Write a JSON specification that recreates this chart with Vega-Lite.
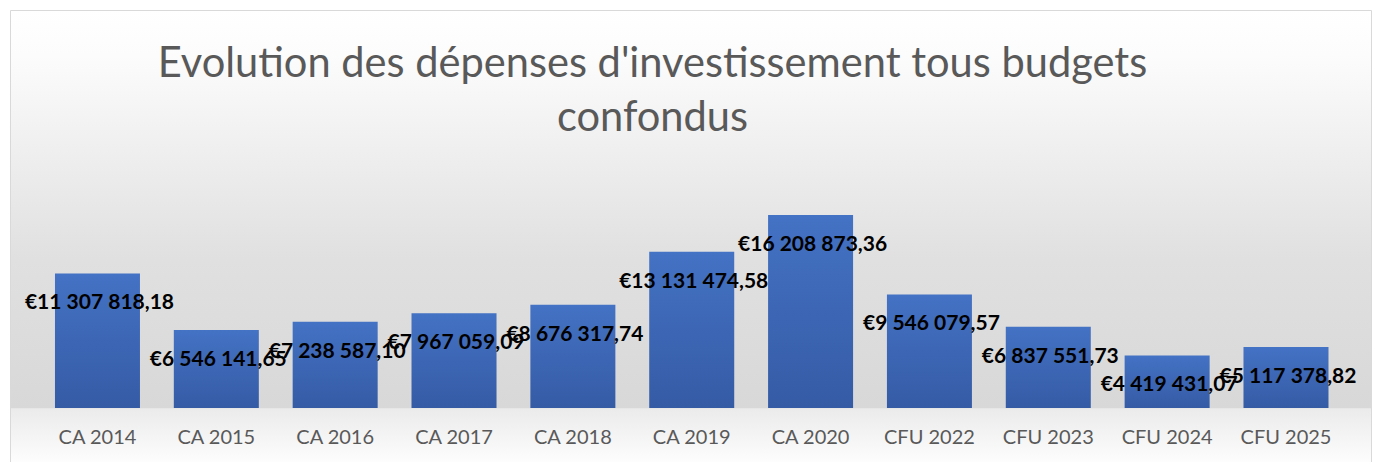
{
  "$schema": "https://vega.github.io/schema/vega-lite/v6.json",
  "autosize": "none",
  "padding": {"left": 10, "top": 10, "right": 6, "bottom": 0},
  "width": 1361,
  "height": 452,
  "background": "#ffffff",
  "title": {
    "text": ["Evolution des dépenses d'investissement tous budgets", "confondus"],
    "font": "Lato",
    "fontWeight": "normal",
    "fontSize": 41.6,
    "color": "#595959",
    "lineHeight": 54,
    "anchor": "middle",
    "frame": "group",
    "baseline": "alphabetic",
    "offset": -163,
    "dx": -38
  },
  "data": {
    "values": [
      {"categorie": "CA 2014", "montant": 11307818.18},
      {"categorie": "CA 2015", "montant": 6546141.65},
      {"categorie": "CA 2016", "montant": 7238587.10},
      {"categorie": "CA 2017", "montant": 7967059.09},
      {"categorie": "CA 2018", "montant": 8676317.74},
      {"categorie": "CA 2019", "montant": 13131474.58},
      {"categorie": "CA 2020", "montant": 16208873.36},
      {"categorie": "CFU 2022", "montant": 9546079.57},
      {"categorie": "CFU 2023", "montant": 6837551.73},
      {"categorie": "CFU 2024", "montant": 4419431.07},
      {"categorie": "CFU 2025", "montant": 5117378.82}
    ]
  },
  "encoding": {
    "x": {
      "field": "categorie",
      "type": "nominal",
      "sort": null,
      "scale": {"paddingInner": 0.2848, "paddingOuter": 0.368, "align": 0.514},
      "axis": {
        "title": null,
        "orient": "bottom",
        "offset": -54,
        "domain": false,
        "ticks": false,
        "tickSize": 0,
        "labelAngle": 0,
        "labelFont": "Lato",
        "labelFontSize": 20,
        "labelColor": "#595959",
        "labelBaseline": "alphabetic",
        "labelPadding": 35,
        "grid": false
      }
    },
    "y": {
      "field": "montant",
      "type": "quantitative",
      "scale": {"domain": [-4537815, 33445378], "nice": false, "zero": false},
      "axis": null
    }
  },
  "layer": [
    {
      "mark": {
        "type": "bar",
        "color": {
          "gradient": "linear",
          "x1": 0, "y1": 0, "x2": 0, "y2": 1,
          "stops": [
            {"offset": 0, "color": "#4472c4"},
            {"offset": 1, "color": "#355ba5"}
          ]
        }
      }
    },
    {
      "mark": {
        "type": "text",
        "align": "center",
        "baseline": "alphabetic",
        "dy": 36,
        "dx": 2,
        "font": "Lato",
        "fontWeight": "bold",
        "fontSize": 21,
        "color": "#000000"
      },
      "encoding": {
        "text": {"field": "montant", "type": "quantitative", "format": "$,.2f"}
      }
    }
  ],
  "config": {
    "locale": {
      "number": {
        "decimal": ",",
        "thousands": " ",
        "grouping": [3],
        "currency": ["€", ""]
      }
    },
    "view": {
      "stroke": "#d9d9d9",
      "strokeWidth": 1,
      "fill": {
        "gradient": "linear",
        "x1": 0, "y1": 0, "x2": 0, "y2": 1,
        "stops": [
          {"offset": 0, "color": "#ffffff"},
          {"offset": 0.1, "color": "#fcfcfc"},
          {"offset": 0.55, "color": "#e0e0e0"},
          {"offset": 0.879, "color": "#d8d8d8"},
          {"offset": 0.881, "color": "#ebebeb"},
          {"offset": 1, "color": "#fdfdfd"}
        ]
      }
    }
  }
}
